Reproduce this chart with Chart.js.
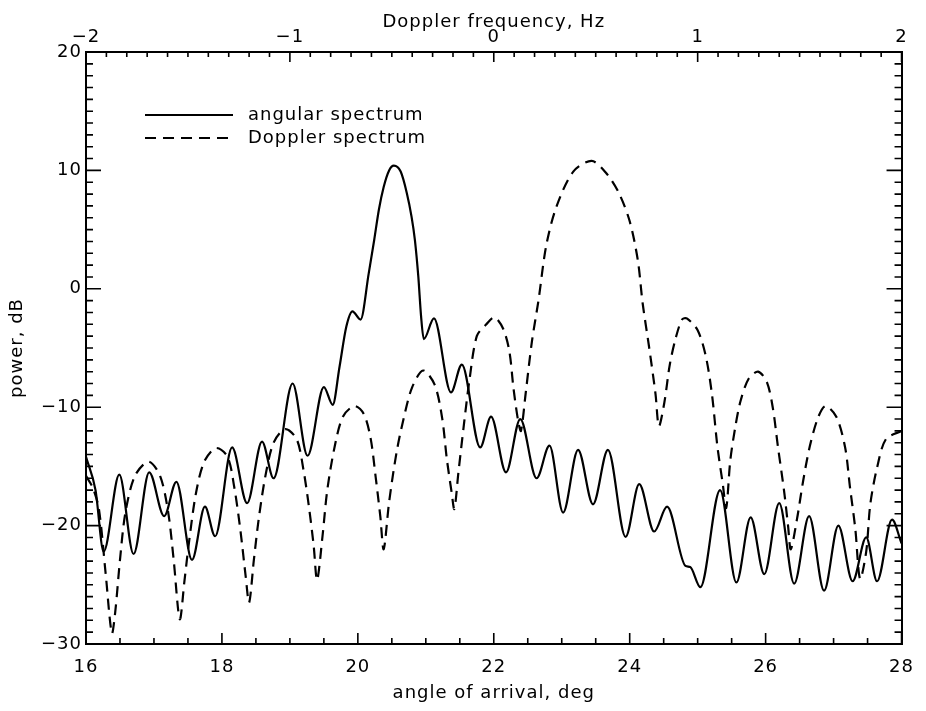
<!DOCTYPE html>
<html>
<head>
<meta charset="utf-8">
<script src="https://cdn.jsdelivr.net/npm/chart.js@4.4.1/dist/chart.umd.min.js"></script>
<style>
  html, body { margin: 0; padding: 0; background: #fff; }
  #power-chart { width: 926px; height: 711px; }
</style>
</head>
<body>
<div id="power-chart"><canvas width="926" height="711"></canvas></div>
<script>
// 데이터 준비 (angular spectrum, 실선)
const angularDeg = [16.00, 16.14, 16.26, 16.49, 16.70, 16.93, 17.15, 17.33, 17.56, 17.75,
  17.90, 18.15, 18.37, 18.59, 18.76, 19.04, 19.26, 19.50, 19.63, 19.73,
  19.83, 19.92, 20.04, 20.16, 20.24, 20.31, 20.38, 20.46, 20.53, 20.63,
  20.72, 20.79, 20.84, 20.89, 20.93, 20.97, 21.12, 21.37, 21.53, 21.80,
  21.96, 22.18, 22.39, 22.63, 22.82, 23.02, 23.24, 23.46, 23.68, 23.94,
  24.14, 24.36, 24.55, 24.82, 24.89, 25.04, 25.33, 25.57, 25.78, 25.98,
  26.20, 26.42, 26.64, 26.86, 27.07, 27.28, 27.48, 27.64, 27.86, 28.00];
const angularDb = [-14.2, -17.0, -22.2, -15.7, -22.4, -15.5, -19.2, -16.3, -22.9, -18.4,
  -20.9, -13.4, -18.1, -12.9, -16.0, -8.0, -14.1, -8.3, -9.8, -6.6,
  -3.2, -1.9, -2.6, 1.3, 4.1, 6.7, 8.6, 10.0, 10.4, 9.9,
  8.1, 6.1, 4.1, 1.0, -2.3, -4.25, -2.5, -8.75, -6.4, -13.4,
  -10.8, -15.5, -11.0, -16.0, -13.25, -18.9, -13.6, -18.2, -13.6, -20.95,
  -16.5, -20.5, -18.4, -23.4, -23.5, -25.2, -17.0, -24.8, -19.3, -24.1,
  -18.1, -24.9, -19.2, -25.5, -20.0, -24.7, -21.0, -24.7, -19.5, -21.5];

// Doppler spectrum (점선)
const dopplerDeg = [16.00, 16.10, 16.19, 16.29, 16.38, 16.43, 16.50, 16.58, 16.72, 16.92,
  17.09, 17.21, 17.29, 17.38, 17.45, 17.52, 17.62, 17.74, 17.91, 18.08,
  18.18, 18.27, 18.35, 18.40, 18.47, 18.54, 18.64, 18.76, 18.93, 19.10,
  19.20, 19.28, 19.35, 19.40, 19.48, 19.55, 19.66, 19.78, 19.95, 20.09,
  20.19, 20.26, 20.33, 20.38, 20.46, 20.57, 20.68, 20.80, 20.96, 21.13,
  21.24, 21.31, 21.38, 21.42, 21.48, 21.56, 21.64, 21.75, 21.89, 22.01,
  22.14, 22.23, 22.29, 22.36, 22.40, 22.47, 22.56, 22.66, 22.77, 22.92,
  23.17, 23.44, 23.65, 23.84, 24.00, 24.12, 24.19, 24.29, 24.38, 24.43,
  24.51, 24.59, 24.68, 24.77, 24.84, 25.00, 25.12, 25.21, 25.29, 25.37,
  25.42, 25.48, 25.55, 25.63, 25.75, 25.89, 26.02, 26.11, 26.18, 26.27,
  26.33, 26.37, 26.46, 26.55, 26.65, 26.77, 26.88, 27.04, 27.17, 27.24,
  27.32, 27.39, 27.48, 27.54, 27.64, 27.77, 28.00];
const dopplerDb = [-15.8, -16.8, -18.6, -24.1, -29.1, -27.3, -22.9, -18.9, -15.8, -14.6,
  -15.8, -18.9, -22.9, -27.9, -24.6, -21.2, -17.2, -14.6, -13.45, -14.15,
  -16.7, -20.3, -24.3, -26.5, -22.9, -19.5, -15.8, -13.0, -11.85, -12.7,
  -15.3, -18.4, -21.7, -24.6, -20.9, -17.0, -13.3, -10.8, -9.9, -10.6,
  -12.7, -15.8, -19.2, -22.0, -18.0, -13.8, -10.8, -8.3, -6.9, -8.1,
  -10.9, -14.4, -17.2, -18.6, -15.5, -11.5, -7.8, -4.0, -3.0, -2.4,
  -3.4, -5.3, -8.4, -11.2, -12.0, -8.8, -4.5, -0.9, 3.6, 6.9,
  9.9, 10.8, 9.8, 8.1, 5.7, 2.4, -1.2, -5.1, -8.9, -11.6,
  -9.6, -6.4, -4.1, -2.6, -2.5, -3.5, -5.7, -8.9, -13.3, -16.5,
  -18.5, -14.5, -11.8, -9.5, -7.6, -7.0, -7.9, -10.2, -13.3, -17.0,
  -20.0, -22.0, -19.5, -16.3, -13.3, -10.9, -9.9, -10.8, -13.4, -16.7,
  -20.3, -24.5, -22.2, -18.2, -15.1, -12.7, -12.0];

// 눈금 라벨
const angleTicks = [16, 18, 20, 22, 24, 26, 28];
const freqTicks = [-2, -1, 0, 1, 2];
const powerTicks = [-30, -20, -10, 0, 10, 20];

Chart.defaults.font.family = "'DejaVu Sans', sans-serif";
Chart.defaults.color = "#000";

const minus = (v) => String(v).replace("-", "\u2212"); // 긴 마이너스 기호

const data = {
  datasets: [
    {
      label: "angular spectrum",
      data: angularDeg.map((x, i) => ({ x: x, y: angularDb[i] })),
      borderColor: "#000",
      borderWidth: 2.2,
      pointRadius: 0,
      cubicInterpolationMode: "monotone",
      xAxisID: "x",
      yAxisID: "y",
    },
    {
      label: "Doppler spectrum",
      data: dopplerDeg.map((x, i) => ({ x: x, y: dopplerDb[i] })),
      borderColor: "#000",
      borderWidth: 2.2,
      borderDash: [11, 7],
      pointRadius: 0,
      tension: 0.3, // 둥근 모양
      xAxisID: "x",
      yAxisID: "y",
    },
  ],
}; // data

// 안쪽으로 향하는 눈금 그리기
const tickMarks = {
  id: "tickMarks",
  afterDraw(chart) {
    const { ctx, chartArea: a, scales } = chart;
    ctx.save();
    ctx.strokeStyle = "#000";
    ctx.lineWidth = 1.6;
    ctx.setLineDash([]);
    ctx.beginPath();
    for (let i = 0; i <= 24; i++) {
      const px = scales.x.getPixelForValue(16 + i * 0.5);
      const len = i % 4 === 0 ? 11 : 6;
      ctx.moveTo(px, a.bottom);
      ctx.lineTo(px, a.bottom - len);
    }
    for (let i = 0; i <= 40; i++) {
      const px = scales.x2.getPixelForValue(-2 + i * 0.1);
      const len = i % 10 === 0 ? 10 : 5;
      ctx.moveTo(px, a.top);
      ctx.lineTo(px, a.top + len);
    }
    for (let i = 0; i <= 50; i++) {
      const py = scales.y.getPixelForValue(-30 + i);
      const len = i % 10 === 0 ? 15 : 7;
      ctx.moveTo(a.left, py);
      ctx.lineTo(a.left + len, py);
      ctx.moveTo(a.right, py);
      ctx.lineTo(a.right - len, py);
    }
    ctx.stroke();
    ctx.restore();
  },
};

// 범례 (그래프 안쪽 왼쪽 위)
const inlineLegend = {
  id: "inlineLegend",
  afterDraw(chart) {
    const { ctx, chartArea: a } = chart;
    chart.data.datasets.forEach((ds, i) => {
      const y = a.top + 63 + i * 23;
      ctx.save();
      ctx.strokeStyle = ds.borderColor;
      ctx.lineWidth = 2;
      ctx.setLineDash(ds.borderDash || []);
      ctx.beginPath();
      ctx.moveTo(a.left + 59, y);
      ctx.lineTo(a.left + 147, y);
      ctx.stroke();
      ctx.setLineDash([]);
      ctx.fillStyle = "#000";
      ctx.font = "18px 'DejaVu Sans'";
      ctx.textBaseline = "middle";
      ctx.textAlign = "left";
      ctx.fillText(ds.label, a.left + 162, y);
      ctx.restore();
    });
  },
};

// 글자 간격
const spacing = {
  id: "spacing",
  beforeDraw(chart) {
    chart.ctx.letterSpacing = "1px";
  },
};

const axisBorder = { display: true, color: "#000", width: 2 };
const noGrid = { display: false, drawTicks: false };

// 그래프 설정
const config = {
  type: "line",
  data: data,
  options: {
    responsive: false,
    animation: false,
    layout: { padding: 0 },
    scales: {
      x: {
        type: "linear",
        position: "bottom",
        min: 16,
        max: 28,
        grid: noGrid,
        border: axisBorder,
        afterBuildTicks: (s) => { s.ticks = angleTicks.map((v) => ({ value: v })); },
        afterFit: (s) => { s.height = 67; },
        ticks: { padding: 13, maxRotation: 0, font: { size: 18 }, callback: minus },
        title: { display: true, text: "angle of arrival, deg", font: { size: 18 }, padding: { top: 0, bottom: 7 } },
      },
      x2: {
        type: "linear",
        position: "top",
        min: -2,
        max: 2,
        grid: noGrid,
        border: axisBorder,
        afterBuildTicks: (s) => { s.ticks = freqTicks.map((v) => ({ value: v })); },
        afterFit: (s) => { s.height = 52; },
        ticks: { padding: 4, maxRotation: 0, font: { size: 18 }, callback: minus },
        title: { display: true, text: "Doppler frequency, Hz", font: { size: 18 }, padding: { top: 12, bottom: 0 } },
      },
      y: {
        type: "linear",
        position: "left",
        min: -30,
        max: 20,
        grid: noGrid,
        border: axisBorder,
        afterBuildTicks: (s) => { s.ticks = powerTicks.map((v) => ({ value: v })); },
        afterFit: (s) => { s.width = 86; },
        ticks: { padding: 4, font: { size: 18 }, callback: minus },
        title: { display: true, text: "power, dB", font: { size: 18 }, padding: { top: 7, bottom: 0 } },
      },
      y2: {
        type: "linear",
        position: "right",
        min: -30,
        max: 20,
        grid: noGrid,
        border: axisBorder,
        ticks: { display: false },
        afterFit: (s) => { s.width = 13; },
      },
    }, // scales
    plugins: {
      legend: { display: false },
      tooltip: { enabled: false },
    }, // plugins
  }, // options
  plugins: [spacing, tickMarks, inlineLegend],
}; // config

// 그래프 그리기
const ctx = document.getElementById("power-chart").querySelector("canvas").getContext("2d");
const powerChart = new Chart(ctx, config);
</script>
</body>
</html>
